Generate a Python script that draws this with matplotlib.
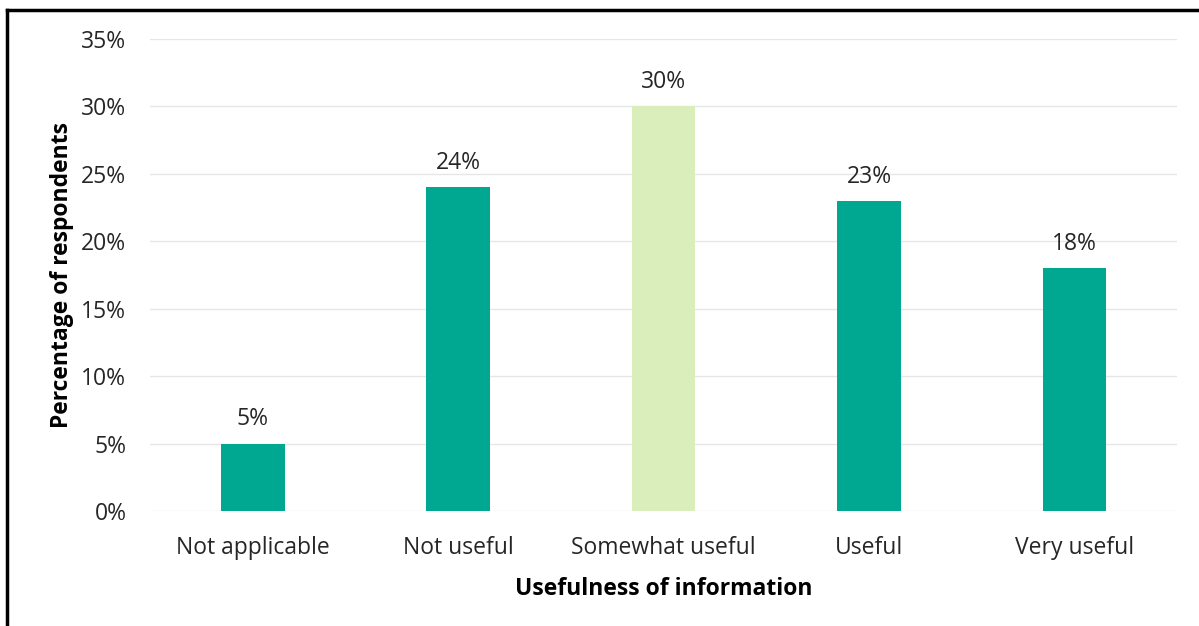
import matplotlib
matplotlib.use("Agg")
import matplotlib.pyplot as plt
from matplotlib.lines import Line2D

categories = ["Not applicable", "Not useful", "Somewhat useful", "Useful", "Very useful"]
values = [5, 24, 30, 23, 18]
colors = ["#00A891", "#00A891", "#D9EEBB", "#00A891", "#00A891"]
yticks = [0, 5, 10, 15, 20, 25, 30, 35]

plt.rcParams["font.family"] = ["Open Sans", "DejaVu Sans"]
TXT = "#262626"
FS = 16.5

fig = plt.figure(figsize=(11.99, 6.26), dpi=100)
ax = fig.add_axes([0.1251, 0.1837, 0.8566, 0.754])

x = range(len(categories))
ax.bar(x, values, width=0.31, color=colors, zorder=3)
for xi, v in zip(x, values):
    ax.text(xi, v + 0.9, f"{v}%", ha="center", va="bottom", fontsize=FS, color=TXT)

ax.set_xlim(-0.5, len(categories) - 0.5)
ax.set_ylim(0, 35)
ax.set_yticks(yticks)
ax.set_yticklabels([f"{t}%" for t in yticks])
ax.set_xticks(list(x))
ax.set_xticklabels(categories)
ax.tick_params(axis="both", length=0, labelsize=FS, labelcolor=TXT)
ax.tick_params(axis="y", pad=17)
ax.tick_params(axis="x", pad=18)
ax.grid(axis="y", color="#E6E6E6", linewidth=1, zorder=0)
for s in ax.spines.values():
    s.set_visible(False)

ax.set_xlabel("Usefulness of information", fontsize=FS, fontweight="bold", color="black", labelpad=12)
ax.set_ylabel("Percentage of respondents", fontsize=FS, fontweight="bold", color="black", labelpad=5)

# outer frame (cropped screenshot: left and top edges only)
fig.add_artist(Line2D([7 / 1199, 7 / 1199], [0, 1 - 10 / 626], transform=fig.transFigure,
                      color="black", linewidth=2.5))
fig.add_artist(Line2D([7 / 1199, 1], [1 - 10 / 626, 1 - 10 / 626], transform=fig.transFigure,
                      color="black", linewidth=2.5))

fig.savefig("out.png", dpi=100, facecolor="white")
